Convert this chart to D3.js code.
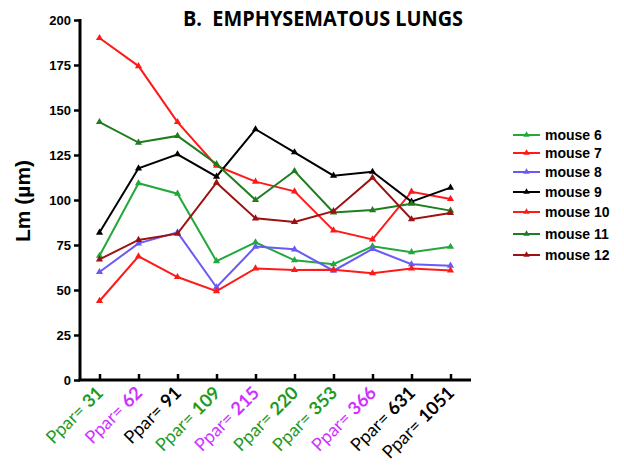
<!DOCTYPE html>
<html><head><meta charset="utf-8">
<script src="https://cdn.jsdelivr.net/npm/d3@7"></script>
<style>body{margin:0;background:#fff}</style>
</head><body>
<script>
const categories = ["31","62","91","109","215","220","353","366","631","1051"];
const catColors = ["#1f9a1f","#cc33ff","#000000","#1f9a1f","#cc33ff","#1f9a1f","#1f9a1f","#cc33ff","#000000","#000000"];
const seriesNames = ["mouse 6","mouse 7","mouse 8","mouse 9","mouse 10","mouse 11","mouse 12"];
const seriesColors = ["#23a83c","#ff1a1a","#6a5af5","#000000","#ff1a1a","#1e7d1e","#9c1212"];
const mouse6  = [69, 109.3, 103.5, 66, 76.5, 66.5, 64.3, 74.3, 71, 74];
const mouse7  = [190, 174.4, 143.3, 119, 110.2, 104.8, 83.1, 78.1, 104.6, 100.6];
const mouse8  = [60, 75.9, 82, 51.5, 74.1, 72.6, 60.7, 72.8, 64.3, 63.5];
const mouse9  = [81.9, 117.6, 125.4, 113, 139.3, 126.5, 113.5, 115.7, 99.1, 106.9];
const mouse10 = [43.9, 68.7, 57.2, 49.4, 62, 61.1, 61.3, 59.3, 62, 60.9];
const mouse11 = [143.3, 131.9, 135.6, 120, 100, 116.1, 93.1, 94.4, 97.9, 94.1];
const mouse12 = [67, 77.8, 81.3, 109.6, 89.8, 87.8, 93.8, 112.4, 89.3, 92.8];
const seriesValues = [mouse6, mouse7, mouse8, mouse9, mouse10, mouse11, mouse12];
const yTicks = [0,25,50,75,100,125,150,175,200];

const W=624,H=474;
const svg=d3.select("body").append("svg").attr("width",W).attr("height",H);
const x=d3.scalePoint().domain(categories).range([80,470]).padding(0.5);
const y=d3.scaleLinear().domain([0,200]).range([380,20]);

// title
svg.append("text").attr("x",183).attr("y",26).attr("font-family","Open Sans, sans-serif")
  .attr("font-weight","bold").attr("font-size",22).attr("fill","#000")
  .attr("textLength",280).attr("lengthAdjust","spacingAndGlyphs")
  .attr("xml:space","preserve").text("B.  EMPHYSEMATOUS LUNGS");

// y label
svg.append("text").attr("transform","translate(30,201) rotate(-90)").attr("text-anchor","middle")
  .attr("font-family","Liberation Sans, Arial, sans-serif").attr("font-weight","bold").attr("font-size",21)
  .text("Lm (µm)");

// y axis
const ya=svg.append("g").attr("transform","translate(80,0)")
  .call(d3.axisLeft(y).tickValues(yTicks).tickSize(6).tickPadding(3));
ya.select(".domain").attr("stroke","#000").attr("stroke-width",3).attr("d","M0,19V381");
ya.selectAll(".tick line").attr("stroke","#000").attr("stroke-width",2.5);
ya.selectAll(".tick text").attr("font-family","Liberation Sans, Arial, sans-serif").attr("font-weight","bold")
  .attr("font-size",13).attr("fill","#000");

// x axis
const xa=svg.append("g").attr("transform","translate(0,380)")
  .call(d3.axisBottom(x).tickSize(-6).tickFormat(""));
xa.select(".domain").attr("stroke","#000").attr("stroke-width",3).attr("d","M78.5,0H471");
xa.selectAll(".tick line").attr("stroke","#000").attr("stroke-width",2.5);

// x labels
categories.forEach((c,i)=>{
  const t=svg.append("text").attr("transform",`translate(${x(c)+5},394) rotate(-45)`)
    .attr("text-anchor","end").attr("font-family","Lato, Open Sans, sans-serif").attr("font-size",18)
    .attr("fill",catColors[i]);
  t.append("tspan").text("Ppar= ");
  t.append("tspan").attr("font-weight","bold").text(c);
});

// lines
const line=d3.line().x((d,i)=>x(categories[i])).y(d=>y(d));
const tri=d3.symbol().type(d3.symbolTriangle).size(22);
seriesValues.forEach((vals,k)=>{
  svg.append("path").datum(vals).attr("d",line).attr("fill","none")
    .attr("stroke",seriesColors[k]).attr("stroke-width",2);
  svg.append("g").selectAll("path").data(vals).join("path")
    .attr("transform",(d,i)=>`translate(${x(categories[i])},${y(d)})`)
    .attr("d",tri).attr("fill",seriesColors[k]);
});

// legend
const legY=[135,153,172,192,212,234,255];
seriesNames.forEach((n,k)=>{
  const g=svg.append("g").attr("transform",`translate(0,${legY[k]})`);
  g.append("line").attr("x1",513).attr("x2",540).attr("stroke",seriesColors[k]).attr("stroke-width",2);
  g.append("path").attr("transform","translate(526.5,0)").attr("d",d3.symbol().type(d3.symbolTriangle).size(18)).attr("fill",seriesColors[k]);
  g.append("text").attr("x",545).attr("y",5).attr("font-family","Liberation Sans, Arial, sans-serif")
    .attr("font-weight","bold").attr("font-size",14).text(n);
});
</script>
</body></html>
